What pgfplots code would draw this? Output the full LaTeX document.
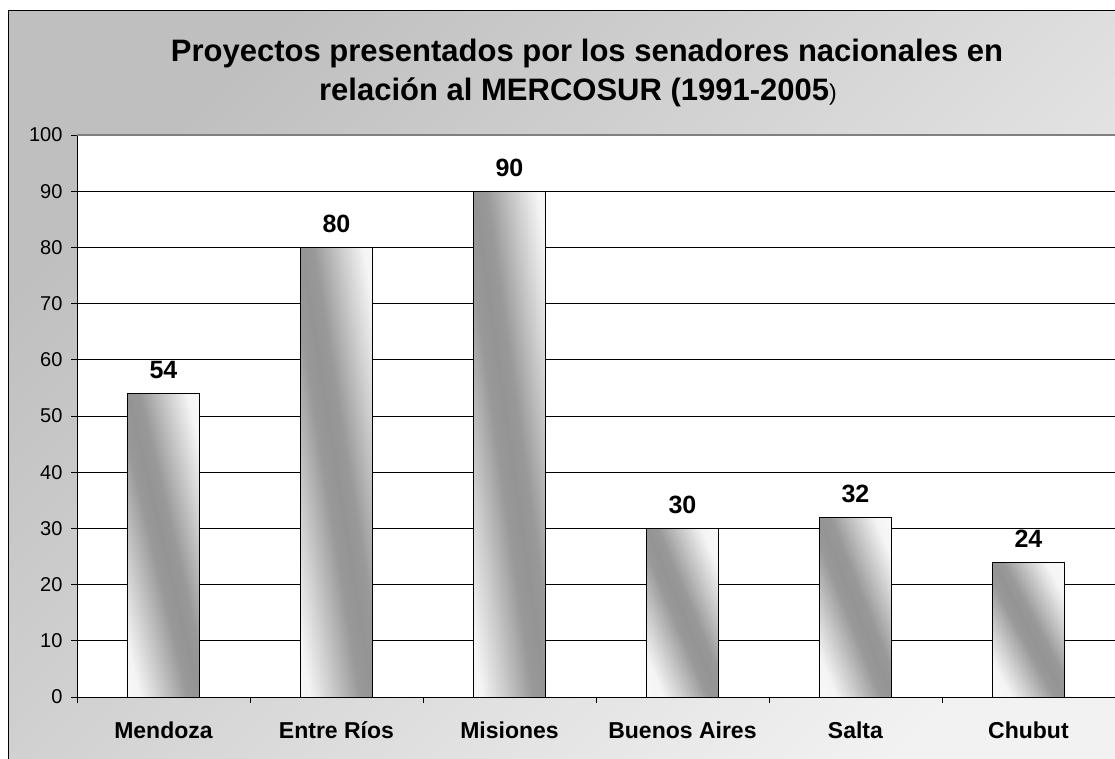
\documentclass[border=0pt]{standalone}
\usepackage{pgfplots}
\pgfplotsset{compat=1.18}
\usepackage{fontspec}
\setmainfont{Liberation Sans}

% grey band used for the bars (runs from corner to corner of each bar)
\pgfdeclarehorizontalshading{barshade}{100bp}{color(0bp)=(white); color(25bp)=(white!96!black); color(34bp)=(black!20); color(45bp)=(black!40); color(50bp)=(black!42); color(55bp)=(black!40); color(66bp)=(black!20); color(75bp)=(white!96!black); color(100bp)=(white)}

\pgfplotsset{
  barstyle/.style={draw=black, line width=0.9pt, shade, shading=barshade, shading angle=#1, bar shift=0pt},
}

\begin{document}
\begin{tikzpicture}
\useasboundingbox (0pt,0pt) rectangle (1115pt,758pt);
% chart area background and frame
\shade[top color=black!25, bottom color=black!5, shading angle=45] (8pt,-20pt) rectangle (1170pt,747pt);
\draw[black, line width=1pt] (8pt,-20pt) -- (8pt,747pt) -- (1170pt,747pt);

% title
\node[anchor=base, font=\fontsize{31}{36}\selectfont\bfseries] at (587pt,696pt) {Proyectos presentados por los senadores nacionales en};
\node[anchor=base, font=\fontsize{31}{36}\selectfont\bfseries] at (578pt,657pt) {relación al MERCOSUR (1991-2005{\fontsize{23}{24}\selectfont\mdseries)}};

\begin{axis}[
    at={(77pt,61pt)}, anchor=south west,
    scale only axis, width=1038pt, height=562pt,
    xmin=-0.5, xmax=5.5, ymin=0, ymax=100,
    ybar, bar width=72pt,
    axis background/.style={fill=white},
    axis x line*=bottom, axis y line*=left,
    axis line style={black, line width=1pt},
    ytick={0,10,...,100},
    ymajorgrids, grid style={black, line width=0.9pt},
    xtick={0,...,5},
    xticklabels={Mendoza, Entre Ríos, Misiones, Buenos Aires, Salta, Chubut},
    minor xtick={-0.5,0.5,...,5.5},
    tick align=outside, major tick length=6pt, minor tick length=6pt,
    major x tick style={draw=none},
    tick style={black, line width=0.9pt},
    /pgf/number format/assume math mode=true,
    xticklabel style={font=\fontsize{23}{26}\selectfont\bfseries, yshift=-15pt},
    yticklabel style={font=\fontsize{20}{22}\selectfont, xshift=-5pt},
    nodes near coords,
    every node near coord/.append style={font=\fontsize{25}{28}\selectfont\bfseries, yshift=11pt},
    clip=false,
]
\addplot[barstyle=13.3] coordinates {(0,54)};
\addplot[barstyle=9.1]  coordinates {(1,80)};
\addplot[barstyle=8.1]  coordinates {(2,90)};
\addplot[barstyle=23.1] coordinates {(3,30)};
\addplot[barstyle=21.8] coordinates {(4,32)};
\addplot[barstyle=28.1] coordinates {(5,24)};
\draw[black!50, line width=1.5pt] (rel axis cs:0,1) -- (rel axis cs:1,1);
\end{axis}
\end{tikzpicture}
\end{document}
